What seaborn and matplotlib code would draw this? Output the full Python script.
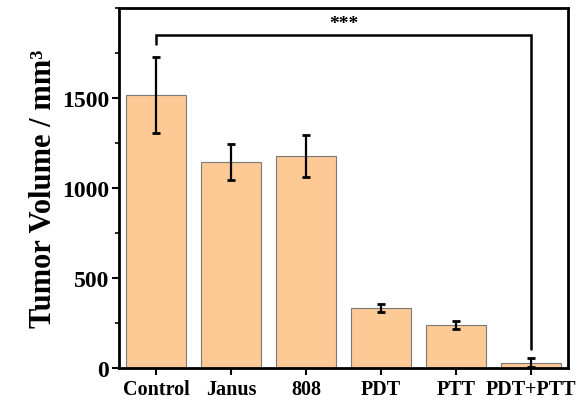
import matplotlib
matplotlib.use("Agg")
import matplotlib.pyplot as plt
import seaborn as sns
import numpy as np
import pandas as pd
from matplotlib.ticker import MultipleLocator

groups = ["Control", "Janus", "808", "PDT", "PTT", "PDT+PTT"]
volumes = [1515, 1145, 1178, 333, 239, 28]
errors = [212, 100, 118, 20, 20, 25]
y_ticks = [0, 500, 1000, 1500]
bracket_pair = ("Control", "PDT+PTT")
bracket_top = 1850
bracket_left_bottom = 1800
bracket_right_bottom = 105
sig_label = "***"

sns.set_theme(style="white")
plt.rcParams['font.family'] = ['Liberation Serif', 'DejaVu Serif']
plt.rcParams['text.color'] = 'black'
plt.rcParams['axes.labelcolor'] = 'black'
plt.rcParams['xtick.color'] = 'black'
plt.rcParams['ytick.color'] = 'black'

fig = plt.figure(figsize=(5.79, 4.10), dpi=100)
ax = fig.add_axes([0.2055, 0.100, 0.7755, 0.878])

df = pd.DataFrame({"group": groups, "volume": volumes})
sns.barplot(data=df, x="group", y="volume", color="#FDC995", saturation=1,
            width=0.8, edgecolor="#7a7a7a", linewidth=0.8, ax=ax, errorbar=None)
ax.errorbar(np.arange(len(groups)), volumes, yerr=errors, fmt="none",
            ecolor="black", elinewidth=1.6, capsize=3, capthick=2, zorder=5)

# significance bracket
i0 = groups.index(bracket_pair[0])
i1 = groups.index(bracket_pair[1])
ax.plot([i0, i0, i1, i1], [bracket_left_bottom, bracket_top, bracket_top, bracket_right_bottom],
        color="black", lw=1.8, solid_joinstyle="miter", zorder=6)
ax.text((i0 + i1) / 2, bracket_top + 15, sig_label, ha="center", va="bottom",
        fontsize=14, fontweight="bold", color="black")

ax.set_xlim(-0.5, len(groups) - 0.5)
ax.set_ylim(0, 2000)
ax.set_yticks(y_ticks)
ax.yaxis.set_minor_locator(MultipleLocator(250))
ax.set_xlabel("")
ax.set_ylabel("Tumor Volume / mm³", fontsize=22, fontweight="bold", labelpad=3, color="black")

for lab in ax.get_yticklabels():
    lab.set_fontweight("bold")
    lab.set_fontsize(17)
for lab in ax.get_xticklabels():
    lab.set_fontweight("bold")
    lab.set_fontsize(14.5)

ax.tick_params(axis="y", which="major", direction="out", length=5, width=1.5, left=True, pad=2)
ax.tick_params(axis="y", which="minor", direction="out", length=3, width=1.2, left=True)
ax.tick_params(axis="x", which="major", direction="out", length=5, width=1.5, bottom=True, pad=3)

for s in ax.spines.values():
    s.set_visible(True)
    s.set_color("black")
    s.set_linewidth(2)

fig.savefig("out.png", dpi=100, facecolor="white")
